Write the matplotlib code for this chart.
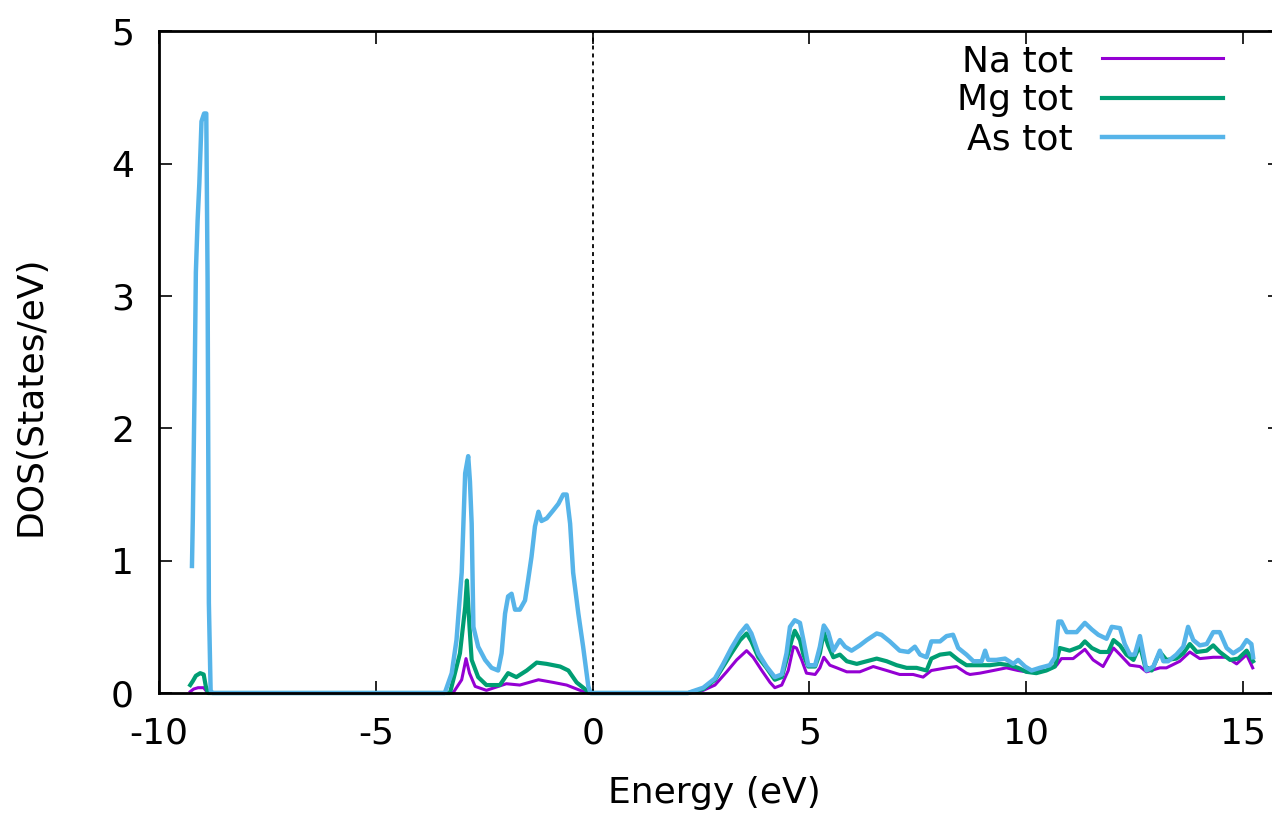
import matplotlib
matplotlib.use("Agg")
import matplotlib.pyplot as plt

plt.rcParams['font.family'] = ['DejaVu Sans']
plt.rcParams['axes.unicode_minus'] = False

# Total densities of states (States/eV) versus energy (eV), Fermi level at 0
energy_na = [-9.28, -9.20, -9.10, -8.97, -8.90, -8.85, -3.25,
             -3.22, -3.02, -2.92, -2.84, -2.71, -2.45, -1.99, -1.68, -1.25, -0.91, -0.60, -0.29, -0.10,
             2.20, 2.55, 2.82, 3.09, 3.32, 3.55, 3.70, 3.90, 4.09, 4.20, 4.36, 4.51, 4.63, 4.70, 4.82,
             4.93, 5.13, 5.24, 5.33, 5.47, 5.63, 5.86, 6.16, 6.47, 6.78, 7.08, 7.39, 7.62, 7.81, 8.16,
             8.39, 8.62, 8.70, 8.93, 9.24, 9.54, 9.81, 10.00, 10.46, 10.70, 10.81, 11.08, 11.35, 11.54,
             11.77, 12.01, 12.16, 12.39, 12.62, 12.77, 13.08, 13.23, 13.54, 13.77, 14.00, 14.31, 14.62,
             14.85, 15.08, 15.22]
dos_na = [0.01, 0.03, 0.04, 0.04, 0.01, 0.00, 0.00,
          0.00, 0.10, 0.26, 0.15, 0.05, 0.02, 0.07, 0.06, 0.10, 0.08, 0.06, 0.02, 0.00,
          0.00, 0.02, 0.06, 0.16, 0.25, 0.32, 0.27, 0.17, 0.08, 0.04, 0.06, 0.17, 0.35, 0.34, 0.25,
          0.15, 0.14, 0.19, 0.27, 0.21, 0.19, 0.16, 0.16, 0.20, 0.17, 0.14, 0.14, 0.12, 0.17, 0.19,
          0.20, 0.15, 0.14, 0.15, 0.17, 0.19, 0.17, 0.16, 0.17, 0.21, 0.26, 0.26, 0.33, 0.25,
          0.20, 0.34, 0.29, 0.21, 0.20, 0.16, 0.19, 0.19, 0.24, 0.31, 0.26, 0.27, 0.27,
          0.22, 0.29, 0.19]

energy_mg = [-9.28, -9.22, -9.15, -9.05, -8.97, -8.92, -8.87, -3.30,
             -3.29, -3.06, -2.94, -2.90, -2.84, -2.79, -2.64, -2.45, -2.14, -1.95, -1.76, -1.52, -1.29,
             -1.06, -0.75, -0.56, -0.37, -0.14, -0.05,
             2.20, 2.55, 2.82, 3.01, 3.20, 3.40, 3.55, 3.66, 3.82, 4.01, 4.20, 4.36, 4.47, 4.59, 4.66,
             4.78, 4.86, 4.97, 5.13, 5.24, 5.33, 5.43, 5.55, 5.70, 5.86, 6.09, 6.32, 6.55, 6.78, 7.01,
             7.24, 7.47, 7.70, 7.81, 8.01, 8.24, 8.43, 8.62, 8.93, 9.16, 9.39, 9.62, 9.81, 10.00, 10.23,
             10.46, 10.66, 10.77, 11.00, 11.24, 11.35, 11.51, 11.70, 11.89, 12.01, 12.16, 12.31, 12.47,
             12.62, 12.74, 12.89, 13.08, 13.23, 13.46, 13.62, 13.77, 13.93, 14.16, 14.31, 14.46, 14.70,
             14.89, 15.08, 15.23]
dos_mg = [0.06, 0.09, 0.13, 0.15, 0.14, 0.05, 0.00, 0.00,
          0.00, 0.30, 0.65, 0.85, 0.50, 0.25, 0.12, 0.06, 0.06, 0.15, 0.12, 0.17, 0.23,
          0.22, 0.20, 0.17, 0.08, 0.02, 0.00,
          0.00, 0.03, 0.10, 0.20, 0.30, 0.40, 0.45, 0.39, 0.27, 0.19, 0.10, 0.12, 0.25, 0.40, 0.47,
          0.40, 0.29, 0.20, 0.20, 0.30, 0.46, 0.36, 0.27, 0.29, 0.24, 0.22, 0.24, 0.26, 0.24, 0.21,
          0.19, 0.19, 0.17, 0.26, 0.29, 0.30, 0.25, 0.21, 0.21, 0.21, 0.22, 0.21, 0.19, 0.16, 0.15,
          0.17, 0.20, 0.34, 0.32, 0.35, 0.39, 0.34, 0.31, 0.31, 0.40, 0.36, 0.29, 0.25,
          0.36, 0.20, 0.17, 0.31, 0.25, 0.26, 0.30, 0.37, 0.31, 0.32, 0.36, 0.31, 0.25,
          0.26, 0.32, 0.24]

energy_as = [-9.24, -9.22, -9.20, -9.18, -9.15, -9.11, -9.07, -9.02, -8.96, -8.91, -8.88, -8.85,
             -8.81, -8.77, -3.45,
             -3.41, -3.25, -3.14, -3.02, -2.94, -2.87, -2.83, -2.79, -2.75, -2.64, -2.48, -2.33, -2.18,
             -2.10, -2.02, -1.95, -1.87, -1.79, -1.68, -1.56, -1.49, -1.41, -1.33, -1.25, -1.18, -1.06,
             -0.91, -0.79, -0.68, -0.60, -0.52, -0.45, -0.33, -0.22, -0.10, -0.05,
             2.20, 2.28, 2.55, 2.82, 3.01, 3.20, 3.40, 3.55, 3.66, 3.82, 4.01, 4.20, 4.36, 4.47, 4.55,
             4.66, 4.78, 4.86, 4.97, 5.13, 5.24, 5.33, 5.43, 5.55, 5.70, 5.82, 5.97, 6.16, 6.32, 6.55,
             6.66, 6.85, 7.08, 7.28, 7.43, 7.55, 7.70, 7.81, 8.01, 8.16, 8.31, 8.43, 8.62, 8.78, 8.97,
             9.05, 9.12, 9.31, 9.51, 9.70, 9.81, 9.97, 10.12, 10.31, 10.54, 10.66, 10.74, 10.81, 10.93,
             11.16, 11.35, 11.51, 11.66, 11.85, 11.97, 12.16, 12.27, 12.39, 12.50, 12.62, 12.70, 12.77,
             12.93, 13.08, 13.16, 13.27, 13.46, 13.62, 13.73, 13.85, 14.00, 14.16, 14.31, 14.46, 14.62,
             14.77, 14.96, 15.08, 15.19, 15.23]
dos_as = [0.96, 1.32, 1.78, 2.29, 3.18, 3.57, 3.85, 4.32, 4.38, 4.38, 3.13, 0.68,
          0.02, 0.00, 0.00,
          0.00, 0.15, 0.40, 0.91, 1.66, 1.79, 1.60, 1.28, 0.50, 0.35, 0.25, 0.19, 0.17,
          0.30, 0.60, 0.73, 0.75, 0.63, 0.63, 0.70, 0.85, 1.03, 1.26, 1.37, 1.30, 1.32,
          1.38, 1.43, 1.50, 1.50, 1.28, 0.91, 0.60, 0.35, 0.05, 0.00,
          0.00, 0.01, 0.04, 0.11, 0.22, 0.34, 0.45, 0.51, 0.45, 0.30, 0.20, 0.12, 0.14, 0.30, 0.50,
          0.55, 0.53, 0.40, 0.21, 0.21, 0.35, 0.51, 0.46, 0.32, 0.40, 0.35, 0.32, 0.36, 0.40, 0.45,
          0.44, 0.39, 0.32, 0.31, 0.35, 0.29, 0.27, 0.39, 0.39, 0.43, 0.44, 0.34, 0.29, 0.24, 0.24,
          0.32, 0.25, 0.25, 0.26, 0.22, 0.25, 0.20, 0.17, 0.19, 0.21, 0.27, 0.54, 0.54, 0.46,
          0.46, 0.53, 0.48, 0.44, 0.41, 0.50, 0.49, 0.37, 0.29, 0.29, 0.43, 0.29, 0.17,
          0.20, 0.32, 0.24, 0.24, 0.29, 0.35, 0.50, 0.40, 0.36, 0.37, 0.46, 0.46, 0.34,
          0.30, 0.34, 0.40, 0.37, 0.27]

series_labels = ['Na tot', 'Mg tot', 'As tot']
x_ticks = [-10, -5, 0, 5, 10, 15]
y_ticks = [0, 1, 2, 3, 4, 5]

FS = 26

fig = plt.figure(figsize=(12.72, 8.15), dpi=100)
ax = fig.add_axes([0.125, 0.1497, 0.8813, 0.8117])

ax.plot(energy_na, dos_na, color='#9400D3', lw=2.2, label=series_labels[0], clip_on=False, zorder=2)
ax.plot(energy_mg, dos_mg, color='#009E73', lw=3.0, label=series_labels[1], clip_on=False, zorder=3)
ax.plot(energy_as, dos_as, color='#56B4E9', lw=3.2, label=series_labels[2], clip_on=False, zorder=4)

# Fermi level
ax.axvline(0, color='black', lw=1.3, ls=(0, (2.2, 2.2)), zorder=1)

ax.set_xlim(-10, 15.85)
ax.set_ylim(0, 5)
ax.set_xticks(x_ticks)
ax.set_yticks(y_ticks)
ax.tick_params(direction='in', top=True, right=True, length=9, width=1.2,
               labelsize=FS, colors='black')
ax.tick_params(axis='x', pad=17)
ax.tick_params(axis='y', pad=18)
for sp in ax.spines.values():
    sp.set_linewidth(2.0)
    sp.set_zorder(6)

ax.set_xlabel('Energy (eV)', fontsize=FS)
ax.xaxis.set_label_coords(0.495, -0.125)
ax.set_ylabel('DOS(States/eV)', fontsize=FS)
ax.yaxis.set_label_coords(-0.0994, 0.45)

leg = ax.legend(loc='upper right', bbox_to_anchor=(1223 / 1272, (815 - 44) / 815),
                bbox_transform=fig.transFigure, frameon=False, fontsize=FS,
                markerfirst=False, handlelength=3.35, handletextpad=0.8,
                labelspacing=0.15, borderpad=0.0, borderaxespad=0.0)
for t in leg.get_texts():
    t.set_ha('right')

fig.savefig('out.png', dpi=100)
